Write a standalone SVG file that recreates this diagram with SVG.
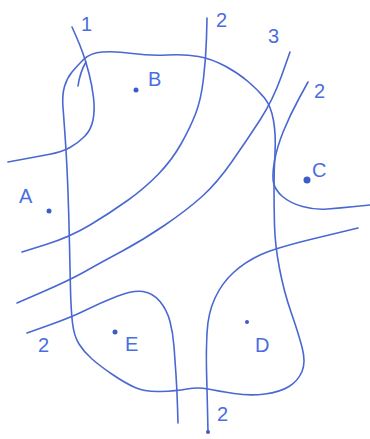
<svg xmlns="http://www.w3.org/2000/svg" width="370" height="439" viewBox="0 0 370 439">
<style>
.ln{fill:none;stroke:#4a68d2;stroke-width:1.6;stroke-linecap:round;stroke-linejoin:round}
.lb{font-family:"Liberation Sans",Arial,sans-serif;font-size:20px;fill:#4a6ee0}
.dt{fill:#3e5cc8}
</style>
<rect width="370" height="439" fill="#ffffff"/>
<g id="lines">
<path class="ln" d="M 83.5,59.5 Q 90,53 102.5,52 Q 115,51 132.5,53.5 Q 150,56 167.5,55 Q 185,54 198.5,56.5 Q 212,59 225,66 Q 238,73 248,81.5 Q 258,90 264.5,98 Q 271,106 273.5,120.5 Q 276,135 275,152.5 Q 274,170 274,187.5 Q 274,205 274.5,225 Q 275,245 279.5,268.5 Q 284,292 291,312 Q 298,332 302,347 Q 306,362 302,371.5 Q 298,381 289,386.5 Q 280,392 265,394 Q 250,396 234,393.5 Q 218,391 208,389 Q 198,387 187,389 Q 176,391 160.5,391.5 Q 145,392 135,387.5 Q 125,383 112.5,374.5 Q 100,366 92,359 Q 84,352 79,344 Q 74,336 72.5,323 Q 71,310 70.5,290 Q 70,270 69.5,245 Q 69,220 68,192.5 Q 67,165 65.5,142.5 Q 64,120 63,107.5 Q 62,95 64.5,86.5 Q 67,78 72,72 Q 77,66 83.5,59.5 Z"/>
<path class="ln" d="M 72,27 L 76,36 Q 80,45 83,53.5 Q 86,62 89,73.5 Q 92,85 93.5,97.5 Q 95,110 93,120 Q 91,130 84.5,136.5 Q 78,143 70,147.5 Q 62,152 48.5,154.5 Q 35,157 21.5,159.5 L 8,162"/>
<path class="ln" d="M 86,62 Q 80,72 78,86"/>
<path class="ln" d="M 207,18 L 206.5,37.5 Q 206,57 203.5,78.5 Q 201,100 195.5,114 Q 190,128 181,144 Q 172,160 158.5,174 Q 145,188 127.5,200.5 Q 110,213 90,225 Q 70,237 46,244.5 L 22,252"/>
<path class="ln" d="M 290,52 L 281.5,76 Q 273,100 260,120 Q 247,140 232,161.5 Q 217,183 202,196.5 Q 187,210 165,225 Q 143,240 121.5,251.5 Q 100,263 85,271.5 Q 70,280 43.5,291.5 L 17,303"/>
<path class="ln" d="M 308,82 L 299,98.5 Q 290,115 283.5,131 Q 277,147 274.5,161 Q 272,175 273.5,182.5 Q 275,190 282.5,196.5 Q 290,203 302.5,206.5 Q 315,210 327.5,209 Q 340,208 355,206.5 L 370,205"/>
<path class="ln" d="M 27,333 L 49.5,325 Q 72,317 86,310 Q 100,303 116.5,296.5 Q 133,290 143,291.5 Q 153,293 160,301.5 Q 167,310 170,321.5 Q 173,333 174,346.5 Q 175,360 176,375 Q 177,390 177.5,406.5 L 178,423"/>
<path class="ln" d="M 358,228 L 316.5,238 Q 275,248 260,255 Q 245,262 233.5,272.5 Q 222,283 215,298 Q 208,313 207,333 Q 206,353 206.5,370 Q 207,387 207.5,409.5 L 208,432"/>
</g>
<g id="points">
<circle class="dt" cx="208" cy="432" r="2"/>
<circle class="dt" cx="136" cy="90" r="2.5"/>
<circle class="dt" cx="49" cy="211" r="2.5"/>
<circle class="dt" cx="307" cy="180" r="3.5"/>
<circle class="dt" cx="115" cy="332" r="2.5"/>
<circle class="dt" cx="247" cy="322" r="2"/>
</g>
<g id="labels">
<text class="lb" x="81" y="31">1</text>
<text class="lb" x="216" y="27">2</text>
<text class="lb" x="268" y="43">3</text>
<text class="lb" x="314" y="98">2</text>
<text class="lb" x="312" y="177">C</text>
<text class="lb" x="148" y="86">B</text>
<text class="lb" x="19" y="203">A</text>
<text class="lb" x="38" y="352">2</text>
<text class="lb" x="125" y="351">E</text>
<text class="lb" x="255" y="352">D</text>
<text class="lb" x="217" y="421">2</text>
</g>
</svg>
